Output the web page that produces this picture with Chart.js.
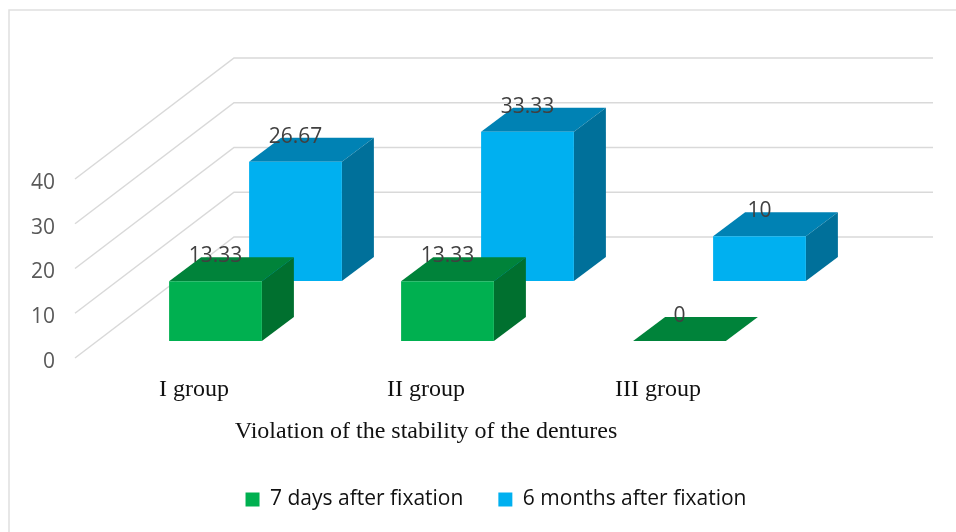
<!DOCTYPE html>
<html>
<head>
<meta charset="utf-8">
<title>Violation of the stability of the dentures</title>
<script src="https://cdn.jsdelivr.net/npm/chart.js@4"></script>
<style>
  html, body { margin: 0; padding: 0; background: #fff; }
  canvas { display: block; }
</style>
</head>
<body>
<canvas id="stabilityChart" width="956" height="532"></canvas>
<script>
const categories = ['I group', 'II group', 'III group'];
const axisTitle = 'Violation of the stability of the dentures';
const yTicks = [0, 10, 20, 30, 40];
const sevenDays = [13.33, 13.33, 0];
const sixMonths = [26.67, 33.33, 10];

// how each series sits in the fake 3D box
const frontRow = { dx: 21.5, dy: -18, face: '#00b050', top: '#00833a', side: '#00702f' };
const backRow = { dx: 101.5, dy: -78, face: '#00b0f0', top: '#0082b4', side: '#00709a' };
const depth = { x: 32, y: 24 };
const wall = { x: 234, right: 933, rise: 122 };
const gridColor = '#d9d9d9';

const box3d = {
    id: 'box3d',
    beforeDraw(chart) {
        const ctx = chart.ctx;
        ctx.save();
        ctx.fillStyle = '#fff';
        ctx.fillRect(0, 0, chart.width, chart.height);
        ctx.strokeStyle = '#e0e0e0';
        ctx.lineWidth = 1.5;
        ctx.beginPath();
        ctx.moveTo(956, 10);
        ctx.lineTo(9, 10);
        ctx.lineTo(9, 532);
        ctx.stroke();
        ctx.restore();
    },
    afterLayout(chart) {
        // legend is not centred on the plot in the original
        chart.legend.left += 109;
        chart.legend.right += 109;
        chart.legend.top -= 12;
    },
    beforeDatasetsDraw(chart) {
        const ctx = chart.ctx;
        const y = chart.scales.y;
        ctx.save();
        ctx.strokeStyle = gridColor;
        ctx.lineWidth = 1.5;
        yTicks.forEach(v => {
            const py = y.getPixelForValue(v);
            ctx.beginPath();
            ctx.moveTo(75, py - 1);
            ctx.lineTo(wall.x, py - wall.rise);
            ctx.lineTo(wall.right, py - wall.rise);
            ctx.stroke();
        });
        ctx.restore();
    },
    beforeDatasetDraw(chart, args) {
        const ctx = chart.ctx;
        const row = args.index === 0 ? frontRow : backRow;
        ctx.save();
        ctx.translate(row.dx, row.dy);
        args.meta.data.forEach(bar => {
            const { x, y, base, width } = bar.getProps(['x', 'y', 'base', 'width'], true);
            const l = x - width / 2;
            const r = x + width / 2;
            ctx.fillStyle = row.top;
            ctx.beginPath();
            ctx.moveTo(l, y);
            ctx.lineTo(l + depth.x, y - depth.y);
            ctx.lineTo(r + depth.x, y - depth.y);
            ctx.lineTo(r, y);
            ctx.closePath();
            ctx.fill();
            if (base - y > 0) {
                ctx.fillStyle = row.side;
                ctx.beginPath();
                ctx.moveTo(r, y);
                ctx.lineTo(r + depth.x, y - depth.y);
                ctx.lineTo(r + depth.x, base - depth.y);
                ctx.lineTo(r, base);
                ctx.closePath();
                ctx.fill();
            }
        });
    },
    afterDatasetDraw(chart) {
        chart.ctx.restore();
    },
    afterDatasetsDraw(chart) {
        const ctx = chart.ctx;
        ctx.save();
        ctx.font = '21px "Open Sans"';
        ctx.fillStyle = '#404040';
        ctx.textAlign = 'center';
        ctx.textBaseline = 'middle';
        chart.data.datasets.forEach((ds, i) => {
            const row = i === 0 ? frontRow : backRow;
            chart.getDatasetMeta(i).data.forEach((bar, j) => {
                ctx.fillText(String(ds.data[j]), bar.x + row.dx, bar.y + row.dy - depth.y - 1);
            });
        });
        ctx.restore();
    }
};

new Chart(document.getElementById('stabilityChart'), {
    type: 'bar',
    data: {
        labels: categories,
        datasets: [
            { label: '7 days after fixation', data: sevenDays, backgroundColor: frontRow.face },
            { label: '6 months after fixation', data: sixMonths, backgroundColor: backRow.face }
        ]
    },
    options: {
        responsive: false,
        animation: false,
        clip: false,
        grouped: false,
        barPercentage: 0.4,
        categoryPercentage: 1,
        layout: { padding: { top: 180, right: 182, left: 0, bottom: 0 } },
        scales: {
            x: {
                grid: { display: false, drawTicks: false },
                border: { display: false },
                afterFit(scale) { scale.height = 107; },
                ticks: {
                    maxRotation: 0,
                    padding: 16,
                    color: '#111',
                    font: { family: '"Liberation Serif"', size: 24 }
                },
                title: {
                    display: true,
                    text: axisTitle,
                    color: '#111',
                    padding: { top: 4, bottom: 20 },
                    font: { family: '"Liberation Serif"', size: 24 }
                }
            },
            y: {
                min: 0,
                max: 40,
                grid: { display: false, drawTicks: false },
                border: { display: false },
                afterFit(scale) { scale.width = 78; },
                ticks: {
                    stepSize: 10,
                    padding: 23,
                    labelOffset: 3,
                    color: '#595959',
                    font: { family: '"Open Sans"', size: 21 }
                }
            }
        },
        plugins: {
            tooltip: { enabled: false },
            legend: {
                position: 'bottom',
                labels: {
                    boxWidth: 14,
                    boxHeight: 14,
                    padding: 35,
                    color: '#111',
                    font: { family: '"Open Sans"', size: 21 }
                }
            }
        }
    },
    plugins: [box3d]
});
</script>
</body>
</html>
